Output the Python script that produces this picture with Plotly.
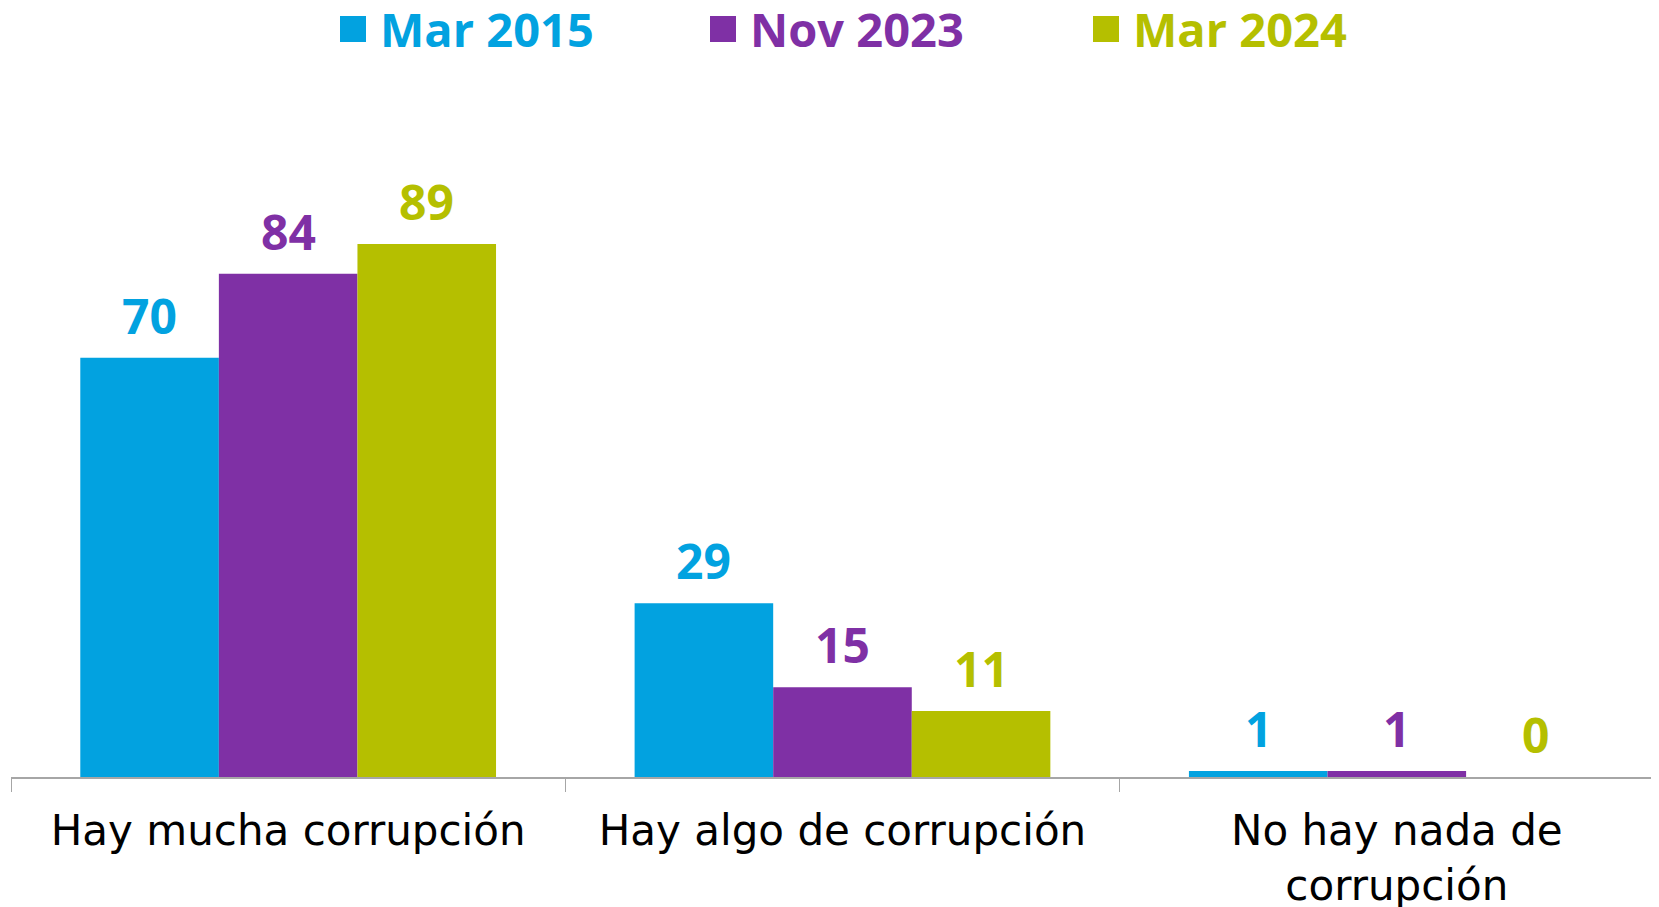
import plotly.graph_objects as go

# Data
categories = ["Hay mucha corrupción", "Hay algo de corrupción", "No hay nada de<br>corrupción"]
series_names = ["Mar 2015", "Nov 2023", "Mar 2024"]
mar_2015 = [70, 29, 1]
nov_2023 = [84, 15, 1]
mar_2024 = [89, 11, 0]
series_values = [mar_2015, nov_2023, mar_2024]

COLORS = ["#02A2E0", "#7F30A5", "#B5BF00"]
AXIS_COLOR = "#A6A6A6"
FONT_BOLD = "Open Sans"
FONT_REG = "DejaVu Sans"

W, H = 1659, 907
OFF = 8  # page body margin around the plot div
M_L, M_R, M_T, M_B = 3, 8, 170, 138
BAR_W = 0.25  # per-bar width in category units (bargap 0.25, 3 bars)

fig = go.Figure()
annotations = []
for i, (name, vals, color) in enumerate(zip(series_names, series_values, COLORS)):
    fig.add_trace(go.Bar(
        x=categories, y=vals, name=name,
        marker=dict(color=color, line=dict(width=0)),
        showlegend=False,
        hoverinfo="skip",
    ))
    # value labels above each bar
    for j, v in enumerate(vals):
        annotations.append(dict(
            x=j + (i - 1) * BAR_W, y=v, xref="x", yref="y",
            text=f"<b>{v}</b>", showarrow=False,
            xanchor="center", yanchor="bottom", yshift=8,
            font=dict(family=FONT_BOLD, size=48, color=color),
        ))

# Manual legend (large square swatches + coloured bold text), page pixels
plot_w = W - M_L - M_R
plot_h = H - M_T - M_B
legend_px = [340, 710, 1093]
sq = 26
sq_top, sq_bot = 16, 42
text_mid = 29
fig_bottom = H - M_B + OFF  # plot bottom in page pixels
shapes = []
for name, color, px in zip(series_names, COLORS, legend_px):
    fx = px - OFF - M_L
    shapes.append(dict(
        type="rect", xref="paper", yref="paper",
        x0=fx / plot_w, x1=(fx + sq) / plot_w,
        y0=(fig_bottom - sq_bot) / plot_h, y1=(fig_bottom - sq_top) / plot_h,
        fillcolor=color, line=dict(width=0),
    ))
    annotations.append(dict(
        xref="paper", yref="paper",
        x=(fx + sq + 12) / plot_w, y=(fig_bottom - text_mid) / plot_h,
        xanchor="left", yanchor="middle", showarrow=False,
        text=f"<b>{name}</b>",
        font=dict(family=FONT_BOLD, size=47, color=color),
    ))

fig.update_layout(
    width=W, height=H,
    margin=dict(l=M_L, r=M_R, t=M_T, b=M_B, pad=0, autoexpand=False),
    paper_bgcolor="white", plot_bgcolor="white",
    barmode="group", bargap=0.25, bargroupgap=0,
    shapes=shapes, annotations=annotations,
    xaxis=dict(
        range=[-0.5, 2.473], automargin=False,
        showline=True, linecolor=AXIS_COLOR, linewidth=1.5,
        ticks="outside", tickson="boundaries", ticklen=13,
        tickcolor=AXIS_COLOR, tickwidth=1,
        ticklabelstandoff=16,
        tickfont=dict(family=FONT_REG, size=42, color="black"),
        showgrid=False,
    ),
    yaxis=dict(range=[0, 100], visible=False, showgrid=False, zeroline=False,
               automargin=False),
)

fig.write_html("out.html")
